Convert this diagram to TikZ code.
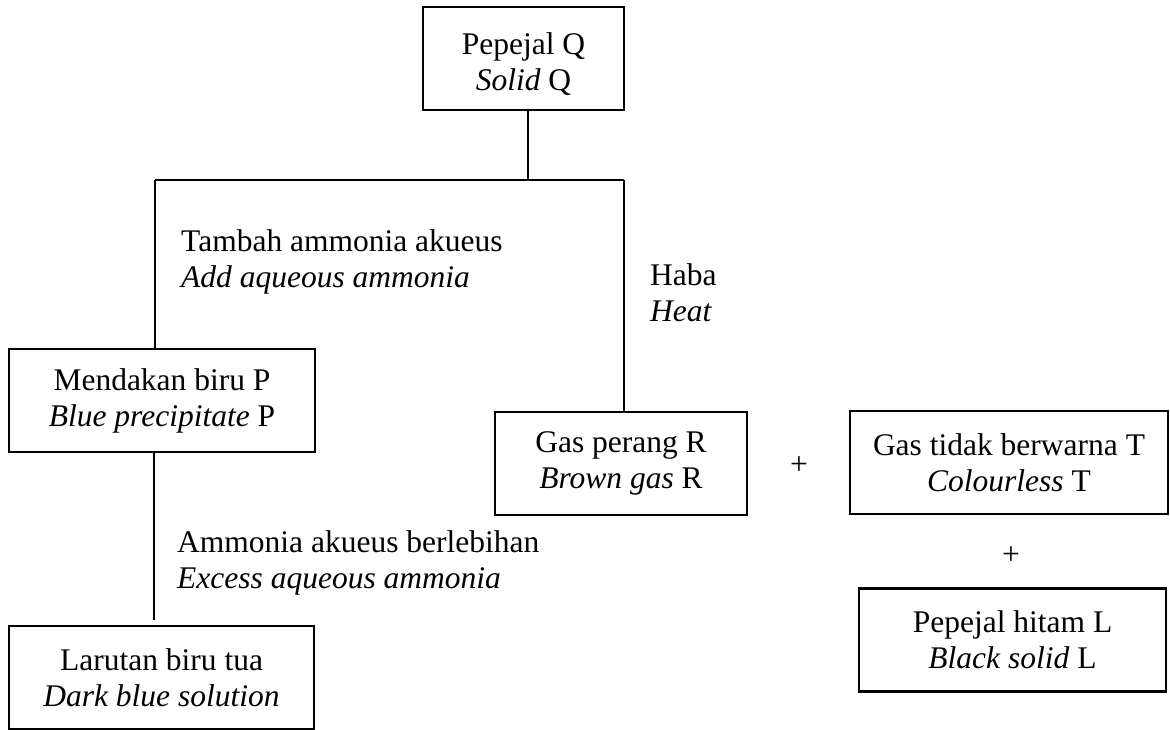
\documentclass[tikz,border=0pt]{standalone}
\usepackage{fontspec}
\setmainfont{Liberation Serif}
\newcommand\tallstrut{\rule{0pt}{34pt}}
\begin{document}
\begin{tikzpicture}[x=1pt,y=-1pt,
  every node/.style={font=\fontsize{31.5}{36}\selectfont},
  box/.style={draw, line width=2.2pt, align=center, inner sep=0pt,
    minimum height=103pt},
  lbl/.style={anchor=west, align=left, inner sep=0pt},
  link/.style={line width=2.2pt}]
  \useasboundingbox (0,0) rectangle (1170,729);

  % boxes
  \node[box, minimum width=201pt] (Q) at (523.5,58.5) {\tallstrut Pepejal Q\\\textit{Solid} Q};
  \node[box, minimum width=306pt] (P) at (162,400.5) {Mendakan biru P\\\textit{Blue precipitate} P};
  \node[box, minimum width=305pt] (S) at (161.5,677.5) {Larutan biru tua\\\textit{Dark blue solution}};
  \node[box, minimum width=252pt] (R) at (621,463.5) {Gas perang R\\\textit{Brown gas} R};
  \node[box, minimum width=318pt] (T) at (1009,462.5) {Gas tidak berwarna T\\\textit{Colourless} T};
  \node[box, minimum width=307pt] (L) at (1012.5,640) {Pepejal hitam L\\\textit{Black solid} L};

  % plus signs
  \node (plus1) at (799,466) {+};
  \node (plus2) at (1011,556) {+};

  % branch junctions
  \coordinate (J) at (528,180);
  \coordinate (JL) at (155,180);
  \coordinate (JR) at (624,180);
  \coordinate (Send) at (154,620);

  \draw[link] (Q.south -| J) -- (J);
  \draw[link] (JL) -- (JR);
  \draw[link] (JL) -- (P.north -| JL);
  \draw[link] (JR) -- (R.north -| JR);
  \draw[link] (P.south -| Send) -- (Send);

  % step labels
  \node[lbl] (a1) at (181,262) {Tambah ammonia akueus\\\textit{Add aqueous ammonia}};
  \node[lbl] (a2) at (650,293) {Haba\\\textit{Heat}};
  \node[lbl] (a3) at (177,562.5) {Ammonia akueus berlebihan\\\textit{Excess aqueous ammonia}};
\end{tikzpicture}
\end{document}
